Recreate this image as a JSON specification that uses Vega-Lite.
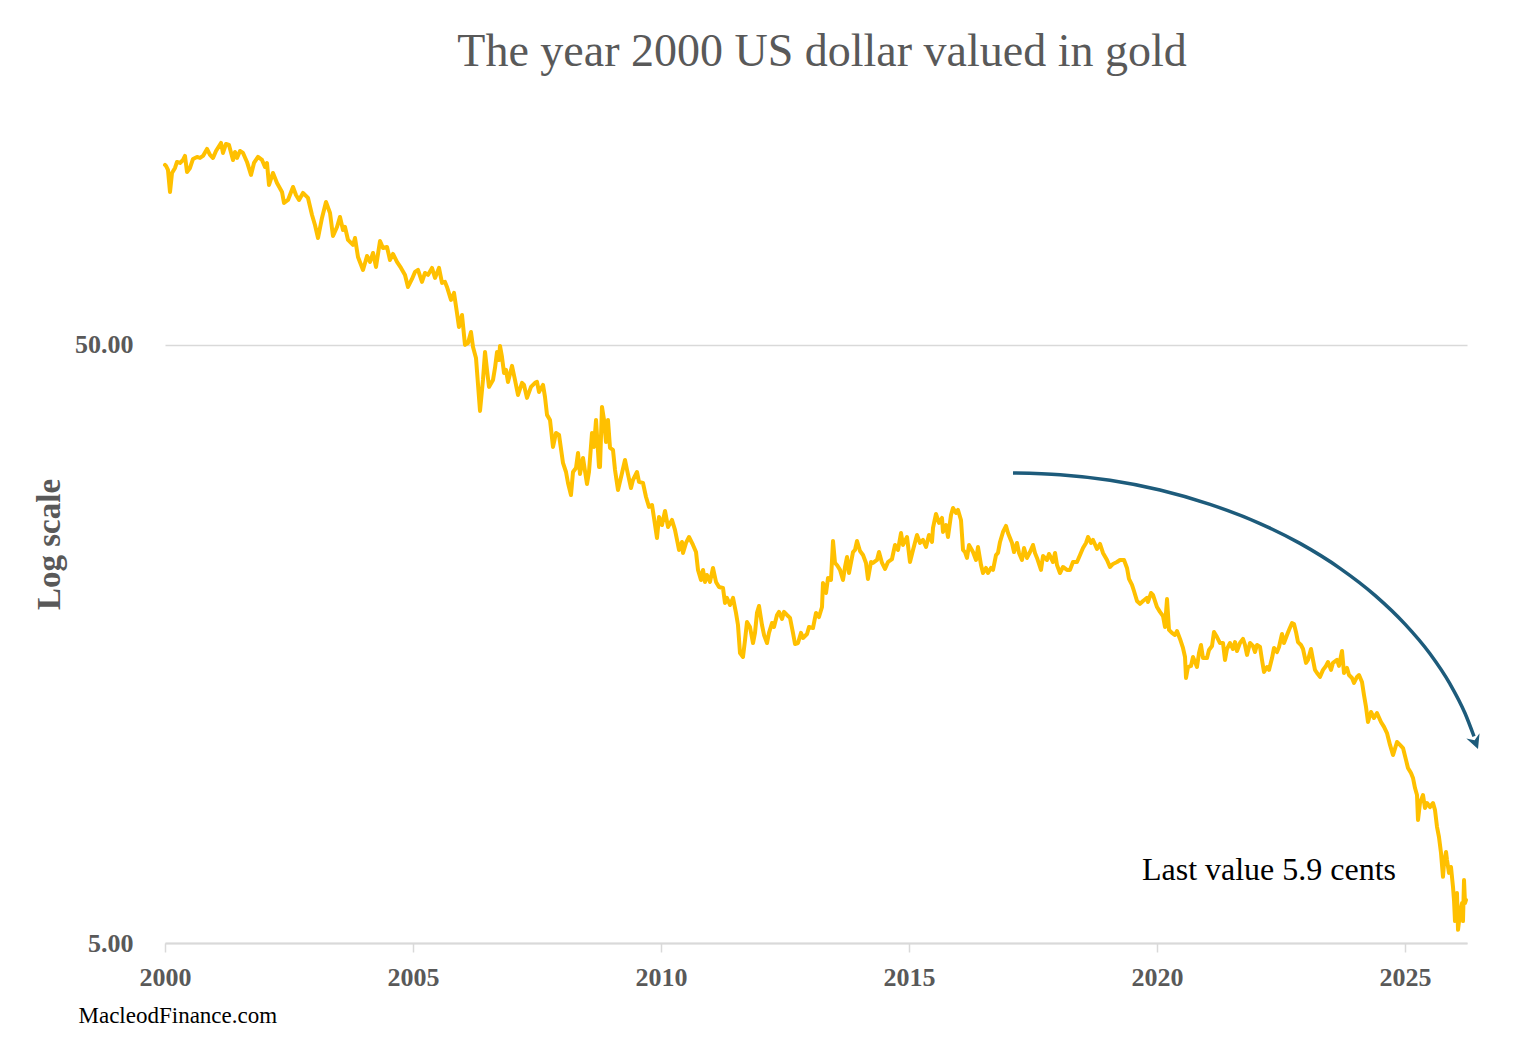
{
  "$schema": "https://vega.github.io/schema/vega-lite/v6.json",
  "autosize": {"type": "none"},
  "padding": {"left": 165, "top": 107, "right": 59, "bottom": 105},
  "width": 1302,
  "height": 836,
  "background": "white",
  "config": {
    "view": {"stroke": null},
    "font": "Liberation Serif"
  },
  "title": {
    "text": "The year 2000 US dollar valued in gold",
    "font": "Liberation Serif",
    "fontSize": 46,
    "fontWeight": "normal",
    "color": "#595959",
    "anchor": "middle",
    "frame": "group",
    "baseline": "alphabetic",
    "offset": 45,
    "dx": 6,
    "dy": 50
  },
  "datasets": {
    "gold": [
      {"year": 2000.000, "value": 100.00},
      {"year": 2000.020, "value": 99.62},
      {"year": 2000.060, "value": 98.09},
      {"year": 2000.101, "value": 90.13},
      {"year": 2000.141, "value": 96.97},
      {"year": 2000.202, "value": 98.85},
      {"year": 2000.242, "value": 101.16},
      {"year": 2000.302, "value": 100.77},
      {"year": 2000.363, "value": 101.94},
      {"year": 2000.403, "value": 103.53},
      {"year": 2000.444, "value": 97.34},
      {"year": 2000.504, "value": 98.85},
      {"year": 2000.565, "value": 102.34},
      {"year": 2000.645, "value": 103.13},
      {"year": 2000.706, "value": 102.73},
      {"year": 2000.766, "value": 103.53},
      {"year": 2000.847, "value": 106.35},
      {"year": 2000.907, "value": 103.93},
      {"year": 2000.968, "value": 102.73},
      {"year": 2001.028, "value": 105.54},
      {"year": 2001.129, "value": 108.84},
      {"year": 2001.169, "value": 104.73},
      {"year": 2001.230, "value": 108.42},
      {"year": 2001.290, "value": 108.01},
      {"year": 2001.371, "value": 101.94},
      {"year": 2001.411, "value": 105.13},
      {"year": 2001.452, "value": 102.73},
      {"year": 2001.512, "value": 105.54},
      {"year": 2001.573, "value": 104.73},
      {"year": 2001.653, "value": 101.16},
      {"year": 2001.734, "value": 96.22},
      {"year": 2001.794, "value": 100.77},
      {"year": 2001.875, "value": 103.13},
      {"year": 2001.956, "value": 101.94},
      {"year": 2002.016, "value": 99.23},
      {"year": 2002.056, "value": 100.77},
      {"year": 2002.097, "value": 92.59},
      {"year": 2002.177, "value": 96.97},
      {"year": 2002.258, "value": 93.30},
      {"year": 2002.359, "value": 90.13},
      {"year": 2002.399, "value": 86.39},
      {"year": 2002.480, "value": 87.39},
      {"year": 2002.581, "value": 91.88},
      {"year": 2002.641, "value": 89.09},
      {"year": 2002.702, "value": 87.39},
      {"year": 2002.782, "value": 89.78},
      {"year": 2002.883, "value": 88.07},
      {"year": 2002.964, "value": 82.49},
      {"year": 2003.024, "value": 79.37},
      {"year": 2003.085, "value": 75.50},
      {"year": 2003.165, "value": 81.54},
      {"year": 2003.246, "value": 86.72},
      {"year": 2003.327, "value": 83.13},
      {"year": 2003.387, "value": 76.08},
      {"year": 2003.468, "value": 78.76},
      {"year": 2003.528, "value": 81.86},
      {"year": 2003.589, "value": 77.86},
      {"year": 2003.629, "value": 78.76},
      {"year": 2003.690, "value": 74.92},
      {"year": 2003.790, "value": 73.49},
      {"year": 2003.831, "value": 75.50},
      {"year": 2003.891, "value": 70.17},
      {"year": 2003.992, "value": 66.75},
      {"year": 2004.073, "value": 70.44},
      {"year": 2004.133, "value": 68.83},
      {"year": 2004.194, "value": 71.26},
      {"year": 2004.254, "value": 67.53},
      {"year": 2004.335, "value": 74.63},
      {"year": 2004.395, "value": 72.64},
      {"year": 2004.476, "value": 72.93},
      {"year": 2004.536, "value": 69.36},
      {"year": 2004.597, "value": 70.99},
      {"year": 2004.677, "value": 68.83},
      {"year": 2004.758, "value": 67.27},
      {"year": 2004.839, "value": 65.48},
      {"year": 2004.899, "value": 62.52},
      {"year": 2004.980, "value": 64.48},
      {"year": 2005.040, "value": 66.24},
      {"year": 2005.101, "value": 66.75},
      {"year": 2005.181, "value": 63.74},
      {"year": 2005.242, "value": 65.98},
      {"year": 2005.302, "value": 65.48},
      {"year": 2005.383, "value": 67.27},
      {"year": 2005.444, "value": 64.73},
      {"year": 2005.524, "value": 67.27},
      {"year": 2005.585, "value": 63.49},
      {"year": 2005.645, "value": 63.74},
      {"year": 2005.685, "value": 62.52},
      {"year": 2005.766, "value": 59.47},
      {"year": 2005.827, "value": 61.09},
      {"year": 2005.887, "value": 56.56},
      {"year": 2005.927, "value": 53.60},
      {"year": 2005.988, "value": 56.13},
      {"year": 2006.048, "value": 50.01},
      {"year": 2006.109, "value": 50.39},
      {"year": 2006.169, "value": 52.57},
      {"year": 2006.210, "value": 49.62},
      {"year": 2006.270, "value": 47.56},
      {"year": 2006.351, "value": 38.79},
      {"year": 2006.411, "value": 43.71},
      {"year": 2006.452, "value": 48.68},
      {"year": 2006.492, "value": 45.42},
      {"year": 2006.532, "value": 42.55},
      {"year": 2006.613, "value": 43.71},
      {"year": 2006.653, "value": 45.77},
      {"year": 2006.694, "value": 48.68},
      {"year": 2006.734, "value": 47.20},
      {"year": 2006.754, "value": 49.81},
      {"year": 2006.794, "value": 47.75},
      {"year": 2006.835, "value": 44.90},
      {"year": 2006.875, "value": 45.42},
      {"year": 2006.915, "value": 43.37},
      {"year": 2006.996, "value": 46.13},
      {"year": 2007.056, "value": 43.71},
      {"year": 2007.117, "value": 41.25},
      {"year": 2007.198, "value": 43.21},
      {"year": 2007.238, "value": 42.87},
      {"year": 2007.298, "value": 40.78},
      {"year": 2007.379, "value": 42.55},
      {"year": 2007.460, "value": 43.21},
      {"year": 2007.500, "value": 43.37},
      {"year": 2007.540, "value": 41.73},
      {"year": 2007.621, "value": 42.87},
      {"year": 2007.661, "value": 40.94},
      {"year": 2007.702, "value": 38.20},
      {"year": 2007.762, "value": 37.47},
      {"year": 2007.823, "value": 33.77},
      {"year": 2007.883, "value": 35.64},
      {"year": 2007.944, "value": 35.37},
      {"year": 2008.024, "value": 31.75},
      {"year": 2008.085, "value": 30.66},
      {"year": 2008.125, "value": 29.39},
      {"year": 2008.185, "value": 28.06},
      {"year": 2008.226, "value": 30.66},
      {"year": 2008.286, "value": 31.14},
      {"year": 2008.327, "value": 33.00},
      {"year": 2008.367, "value": 30.43},
      {"year": 2008.427, "value": 32.37},
      {"year": 2008.508, "value": 29.28},
      {"year": 2008.548, "value": 30.66},
      {"year": 2008.609, "value": 35.64},
      {"year": 2008.649, "value": 33.77},
      {"year": 2008.690, "value": 37.47},
      {"year": 2008.750, "value": 31.26},
      {"year": 2008.770, "value": 31.26},
      {"year": 2008.810, "value": 39.39},
      {"year": 2008.851, "value": 37.47},
      {"year": 2008.891, "value": 34.42},
      {"year": 2008.931, "value": 37.47},
      {"year": 2008.972, "value": 33.64},
      {"year": 2009.032, "value": 33.38},
      {"year": 2009.073, "value": 30.90},
      {"year": 2009.133, "value": 28.61},
      {"year": 2009.214, "value": 30.55},
      {"year": 2009.274, "value": 32.12},
      {"year": 2009.315, "value": 30.90},
      {"year": 2009.395, "value": 28.83},
      {"year": 2009.435, "value": 29.73},
      {"year": 2009.516, "value": 30.66},
      {"year": 2009.556, "value": 29.51},
      {"year": 2009.637, "value": 29.39},
      {"year": 2009.698, "value": 27.85},
      {"year": 2009.758, "value": 26.80},
      {"year": 2009.819, "value": 27.00},
      {"year": 2009.859, "value": 25.69},
      {"year": 2009.919, "value": 23.78},
      {"year": 2009.960, "value": 25.79},
      {"year": 2010.020, "value": 25.00},
      {"year": 2010.081, "value": 26.39},
      {"year": 2010.141, "value": 24.81},
      {"year": 2010.222, "value": 25.49},
      {"year": 2010.282, "value": 24.53},
      {"year": 2010.323, "value": 23.60},
      {"year": 2010.363, "value": 22.71},
      {"year": 2010.423, "value": 23.42},
      {"year": 2010.444, "value": 22.45},
      {"year": 2010.504, "value": 23.33},
      {"year": 2010.565, "value": 23.87},
      {"year": 2010.645, "value": 23.15},
      {"year": 2010.706, "value": 22.53},
      {"year": 2010.746, "value": 21.03},
      {"year": 2010.806, "value": 20.23},
      {"year": 2010.847, "value": 21.03},
      {"year": 2010.887, "value": 20.08},
      {"year": 2010.927, "value": 20.62},
      {"year": 2010.988, "value": 20.08},
      {"year": 2011.048, "value": 21.19},
      {"year": 2011.109, "value": 20.08},
      {"year": 2011.169, "value": 19.69},
      {"year": 2011.250, "value": 19.62},
      {"year": 2011.290, "value": 18.52},
      {"year": 2011.331, "value": 18.88},
      {"year": 2011.391, "value": 18.37},
      {"year": 2011.452, "value": 18.88},
      {"year": 2011.512, "value": 17.82},
      {"year": 2011.552, "value": 17.01},
      {"year": 2011.593, "value": 15.27},
      {"year": 2011.653, "value": 15.04},
      {"year": 2011.694, "value": 16.06},
      {"year": 2011.734, "value": 17.21},
      {"year": 2011.794, "value": 16.88},
      {"year": 2011.855, "value": 15.87},
      {"year": 2011.895, "value": 16.50},
      {"year": 2011.935, "value": 17.82},
      {"year": 2011.976, "value": 18.30},
      {"year": 2012.036, "value": 17.01},
      {"year": 2012.077, "value": 16.37},
      {"year": 2012.137, "value": 15.87},
      {"year": 2012.177, "value": 16.50},
      {"year": 2012.238, "value": 17.14},
      {"year": 2012.278, "value": 16.88},
      {"year": 2012.339, "value": 17.68},
      {"year": 2012.379, "value": 17.89},
      {"year": 2012.440, "value": 17.41},
      {"year": 2012.480, "value": 17.89},
      {"year": 2012.540, "value": 17.68},
      {"year": 2012.601, "value": 17.48},
      {"year": 2012.661, "value": 16.50},
      {"year": 2012.702, "value": 15.81},
      {"year": 2012.762, "value": 15.87},
      {"year": 2012.823, "value": 16.50},
      {"year": 2012.863, "value": 16.18},
      {"year": 2012.944, "value": 16.43},
      {"year": 2012.984, "value": 16.88},
      {"year": 2013.065, "value": 16.82},
      {"year": 2013.125, "value": 17.82},
      {"year": 2013.185, "value": 17.54},
      {"year": 2013.246, "value": 18.23},
      {"year": 2013.266, "value": 20.00},
      {"year": 2013.327, "value": 19.24},
      {"year": 2013.367, "value": 20.39},
      {"year": 2013.427, "value": 20.23},
      {"year": 2013.468, "value": 23.51},
      {"year": 2013.508, "value": 21.60},
      {"year": 2013.548, "value": 21.43},
      {"year": 2013.609, "value": 21.03},
      {"year": 2013.669, "value": 20.23},
      {"year": 2013.710, "value": 21.27},
      {"year": 2013.750, "value": 22.10},
      {"year": 2013.790, "value": 20.78},
      {"year": 2013.871, "value": 22.53},
      {"year": 2013.911, "value": 22.71},
      {"year": 2013.952, "value": 23.51},
      {"year": 2014.012, "value": 22.62},
      {"year": 2014.073, "value": 22.27},
      {"year": 2014.133, "value": 21.60},
      {"year": 2014.173, "value": 20.31},
      {"year": 2014.234, "value": 21.68},
      {"year": 2014.274, "value": 21.60},
      {"year": 2014.355, "value": 21.85},
      {"year": 2014.395, "value": 22.53},
      {"year": 2014.456, "value": 21.60},
      {"year": 2014.516, "value": 21.11},
      {"year": 2014.577, "value": 21.68},
      {"year": 2014.657, "value": 21.93},
      {"year": 2014.718, "value": 23.15},
      {"year": 2014.778, "value": 22.71},
      {"year": 2014.839, "value": 24.24},
      {"year": 2014.879, "value": 23.15},
      {"year": 2014.960, "value": 23.87},
      {"year": 2015.020, "value": 21.68},
      {"year": 2015.081, "value": 22.71},
      {"year": 2015.161, "value": 24.06},
      {"year": 2015.222, "value": 23.33},
      {"year": 2015.282, "value": 23.60},
      {"year": 2015.343, "value": 22.97},
      {"year": 2015.403, "value": 24.06},
      {"year": 2015.464, "value": 23.42},
      {"year": 2015.484, "value": 24.72},
      {"year": 2015.544, "value": 26.08},
      {"year": 2015.605, "value": 25.20},
      {"year": 2015.665, "value": 25.69},
      {"year": 2015.685, "value": 24.34},
      {"year": 2015.746, "value": 25.00},
      {"year": 2015.786, "value": 23.87},
      {"year": 2015.847, "value": 25.98},
      {"year": 2015.887, "value": 26.69},
      {"year": 2015.948, "value": 26.19},
      {"year": 2015.988, "value": 26.49},
      {"year": 2016.048, "value": 25.49},
      {"year": 2016.089, "value": 22.71},
      {"year": 2016.129, "value": 22.53},
      {"year": 2016.169, "value": 22.02},
      {"year": 2016.210, "value": 23.15},
      {"year": 2016.290, "value": 22.53},
      {"year": 2016.351, "value": 21.85},
      {"year": 2016.391, "value": 22.97},
      {"year": 2016.452, "value": 21.43},
      {"year": 2016.492, "value": 20.78},
      {"year": 2016.552, "value": 21.19},
      {"year": 2016.593, "value": 20.78},
      {"year": 2016.653, "value": 21.19},
      {"year": 2016.694, "value": 21.03},
      {"year": 2016.754, "value": 22.27},
      {"year": 2016.794, "value": 22.45},
      {"year": 2016.835, "value": 23.42},
      {"year": 2016.895, "value": 24.34},
      {"year": 2016.956, "value": 24.91},
      {"year": 2016.996, "value": 24.24},
      {"year": 2017.077, "value": 23.33},
      {"year": 2017.117, "value": 22.53},
      {"year": 2017.177, "value": 23.33},
      {"year": 2017.218, "value": 22.45},
      {"year": 2017.278, "value": 21.85},
      {"year": 2017.319, "value": 22.88},
      {"year": 2017.379, "value": 22.02},
      {"year": 2017.440, "value": 22.53},
      {"year": 2017.500, "value": 23.15},
      {"year": 2017.540, "value": 22.45},
      {"year": 2017.581, "value": 22.02},
      {"year": 2017.661, "value": 21.03},
      {"year": 2017.702, "value": 22.19},
      {"year": 2017.782, "value": 21.85},
      {"year": 2017.823, "value": 22.36},
      {"year": 2017.903, "value": 21.68},
      {"year": 2017.944, "value": 22.45},
      {"year": 2017.984, "value": 21.43},
      {"year": 2018.044, "value": 20.78},
      {"year": 2018.105, "value": 21.27},
      {"year": 2018.185, "value": 21.03},
      {"year": 2018.246, "value": 21.03},
      {"year": 2018.306, "value": 21.68},
      {"year": 2018.387, "value": 21.68},
      {"year": 2018.448, "value": 22.27},
      {"year": 2018.508, "value": 22.88},
      {"year": 2018.569, "value": 23.33},
      {"year": 2018.609, "value": 23.87},
      {"year": 2018.669, "value": 23.33},
      {"year": 2018.710, "value": 23.60},
      {"year": 2018.790, "value": 22.80},
      {"year": 2018.851, "value": 23.24},
      {"year": 2018.911, "value": 22.45},
      {"year": 2018.992, "value": 21.85},
      {"year": 2019.052, "value": 21.27},
      {"year": 2019.113, "value": 21.52},
      {"year": 2019.194, "value": 21.68},
      {"year": 2019.254, "value": 21.85},
      {"year": 2019.335, "value": 21.85},
      {"year": 2019.395, "value": 21.19},
      {"year": 2019.435, "value": 20.31},
      {"year": 2019.496, "value": 19.85},
      {"year": 2019.536, "value": 19.39},
      {"year": 2019.597, "value": 18.66},
      {"year": 2019.657, "value": 18.45},
      {"year": 2019.718, "value": 18.66},
      {"year": 2019.798, "value": 18.88},
      {"year": 2019.819, "value": 18.59},
      {"year": 2019.879, "value": 19.24},
      {"year": 2019.919, "value": 19.10},
      {"year": 2020.000, "value": 18.23},
      {"year": 2020.060, "value": 17.89},
      {"year": 2020.121, "value": 17.61},
      {"year": 2020.161, "value": 16.88},
      {"year": 2020.202, "value": 18.80},
      {"year": 2020.242, "value": 16.69},
      {"year": 2020.302, "value": 16.50},
      {"year": 2020.363, "value": 16.37},
      {"year": 2020.403, "value": 16.62},
      {"year": 2020.464, "value": 16.12},
      {"year": 2020.524, "value": 15.57},
      {"year": 2020.565, "value": 15.04},
      {"year": 2020.585, "value": 13.87},
      {"year": 2020.625, "value": 14.47},
      {"year": 2020.685, "value": 14.53},
      {"year": 2020.726, "value": 15.04},
      {"year": 2020.766, "value": 14.75},
      {"year": 2020.806, "value": 14.47},
      {"year": 2020.847, "value": 15.27},
      {"year": 2020.887, "value": 15.75},
      {"year": 2020.927, "value": 14.98},
      {"year": 2021.008, "value": 14.98},
      {"year": 2021.048, "value": 15.45},
      {"year": 2021.109, "value": 15.69},
      {"year": 2021.149, "value": 16.56},
      {"year": 2021.210, "value": 16.24},
      {"year": 2021.270, "value": 15.87},
      {"year": 2021.331, "value": 15.87},
      {"year": 2021.371, "value": 14.87},
      {"year": 2021.411, "value": 15.51},
      {"year": 2021.472, "value": 15.87},
      {"year": 2021.532, "value": 15.51},
      {"year": 2021.573, "value": 15.93},
      {"year": 2021.613, "value": 15.39},
      {"year": 2021.673, "value": 15.87},
      {"year": 2021.734, "value": 16.12},
      {"year": 2021.774, "value": 15.75},
      {"year": 2021.815, "value": 15.16},
      {"year": 2021.875, "value": 15.87},
      {"year": 2021.935, "value": 15.69},
      {"year": 2021.976, "value": 15.33},
      {"year": 2022.016, "value": 15.75},
      {"year": 2022.077, "value": 15.63},
      {"year": 2022.117, "value": 14.87},
      {"year": 2022.157, "value": 14.20},
      {"year": 2022.218, "value": 14.47},
      {"year": 2022.258, "value": 14.31},
      {"year": 2022.319, "value": 14.98},
      {"year": 2022.359, "value": 15.57},
      {"year": 2022.419, "value": 15.33},
      {"year": 2022.460, "value": 15.63},
      {"year": 2022.520, "value": 16.43},
      {"year": 2022.560, "value": 15.87},
      {"year": 2022.621, "value": 16.37},
      {"year": 2022.661, "value": 16.69},
      {"year": 2022.722, "value": 17.14},
      {"year": 2022.762, "value": 17.08},
      {"year": 2022.802, "value": 16.56},
      {"year": 2022.843, "value": 15.93},
      {"year": 2022.903, "value": 15.75},
      {"year": 2022.944, "value": 15.51},
      {"year": 2023.004, "value": 14.70},
      {"year": 2023.044, "value": 14.87},
      {"year": 2023.105, "value": 15.51},
      {"year": 2023.145, "value": 14.87},
      {"year": 2023.185, "value": 14.31},
      {"year": 2023.226, "value": 14.14},
      {"year": 2023.286, "value": 13.93},
      {"year": 2023.347, "value": 14.31},
      {"year": 2023.407, "value": 14.53},
      {"year": 2023.448, "value": 14.75},
      {"year": 2023.508, "value": 14.31},
      {"year": 2023.548, "value": 14.70},
      {"year": 2023.629, "value": 14.87},
      {"year": 2023.669, "value": 14.53},
      {"year": 2023.730, "value": 15.39},
      {"year": 2023.770, "value": 14.14},
      {"year": 2023.831, "value": 14.42},
      {"year": 2023.871, "value": 14.03},
      {"year": 2023.931, "value": 13.87},
      {"year": 2023.972, "value": 13.61},
      {"year": 2024.032, "value": 13.93},
      {"year": 2024.073, "value": 14.03},
      {"year": 2024.133, "value": 13.66},
      {"year": 2024.173, "value": 12.99},
      {"year": 2024.214, "value": 12.41},
      {"year": 2024.254, "value": 11.71},
      {"year": 2024.315, "value": 12.17},
      {"year": 2024.375, "value": 11.89},
      {"year": 2024.435, "value": 12.12},
      {"year": 2024.516, "value": 11.71},
      {"year": 2024.577, "value": 11.49},
      {"year": 2024.637, "value": 11.22},
      {"year": 2024.698, "value": 10.72},
      {"year": 2024.758, "value": 10.31},
      {"year": 2024.839, "value": 10.84},
      {"year": 2024.899, "value": 10.72},
      {"year": 2024.960, "value": 10.59},
      {"year": 2025.020, "value": 10.12},
      {"year": 2025.060, "value": 9.81},
      {"year": 2025.121, "value": 9.62},
      {"year": 2025.161, "value": 9.44},
      {"year": 2025.202, "value": 9.08},
      {"year": 2025.242, "value": 8.84},
      {"year": 2025.262, "value": 8.03},
      {"year": 2025.302, "value": 8.57},
      {"year": 2025.363, "value": 8.84},
      {"year": 2025.403, "value": 8.41},
      {"year": 2025.444, "value": 8.57},
      {"year": 2025.504, "value": 8.44},
      {"year": 2025.565, "value": 8.57},
      {"year": 2025.605, "value": 8.34},
      {"year": 2025.645, "value": 7.82},
      {"year": 2025.685, "value": 7.52},
      {"year": 2025.726, "value": 7.07},
      {"year": 2025.766, "value": 6.45},
      {"year": 2025.786, "value": 6.80},
      {"year": 2025.827, "value": 7.10},
      {"year": 2025.847, "value": 6.88},
      {"year": 2025.887, "value": 6.55},
      {"year": 2025.927, "value": 6.70},
      {"year": 2025.968, "value": 6.20},
      {"year": 2025.988, "value": 5.90},
      {"year": 2026.008, "value": 5.44},
      {"year": 2026.028, "value": 5.74},
      {"year": 2026.048, "value": 6.06},
      {"year": 2026.069, "value": 5.26},
      {"year": 2026.109, "value": 5.61},
      {"year": 2026.149, "value": 5.83},
      {"year": 2026.169, "value": 5.44},
      {"year": 2026.190, "value": 6.37},
      {"year": 2026.210, "value": 5.83},
      {"year": 2026.230, "value": 5.90}
    ],
    "arrow": [
      {"year": 2017.097, "value": 30.54},
      {"year": 2018.044, "value": 30.34},
      {"year": 2019.052, "value": 29.70},
      {"year": 2020.060, "value": 28.61},
      {"year": 2021.069, "value": 27.07},
      {"year": 2022.077, "value": 25.14},
      {"year": 2022.883, "value": 23.29},
      {"year": 2023.690, "value": 21.16},
      {"year": 2024.395, "value": 19.07},
      {"year": 2025.000, "value": 17.07},
      {"year": 2025.504, "value": 15.23},
      {"year": 2025.907, "value": 13.56},
      {"year": 2026.210, "value": 12.11},
      {"year": 2026.391, "value": 11.08}
    ],
    "arrowhead": [
      {"year": 2026.421, "value": 10.82}
    ],
    "note": [
      {"year": 2022.258, "value": 6.62, "label": "Last value 5.9 cents"}
    ]
  },
  "encoding": {
    "x": {
      "field": "year",
      "type": "quantitative",
      "scale": {"domain": [2000, 2026.25], "nice": false, "zero": false},
      "axis": {
        "values": [2000, 2005, 2010, 2015, 2020, 2025],
        "format": "d",
        "grid": false,
        "labelFlush": false,
        "labelOverlap": false,
        "domainColor": "#d9d9d9",
        "domainWidth": 2,
        "tickColor": "#d9d9d9",
        "tickWidth": 1.5,
        "tickSize": 9,
        "labelFont": "Liberation Serif",
        "labelFontSize": 26,
        "labelFontWeight": "bold",
        "labelColor": "#595959",
        "labelPadding": 12,
        "title": "MacleodFinance.com",
        "titleFont": "Liberation Serif",
        "titleFontSize": 23,
        "titleFontWeight": "normal",
        "titleColor": "#000000",
        "titleAnchor": "start",
        "titleAlign": "left",
        "titleBaseline": "alphabetic",
        "titleX": -87,
        "titleY": 79
      }
    },
    "y": {
      "field": "value",
      "type": "quantitative",
      "scale": {"type": "log", "domain": [5, 125], "nice": false, "zero": false},
      "axis": {
        "values": [5, 50],
        "format": ".2f",
        "grid": true,
        "gridColor": "#d9d9d9",
        "gridWidth": 1.5,
        "labelFlush": false,
        "labelOverlap": false,
        "domain": false,
        "ticks": false,
        "tickSize": 0,
        "labelFont": "Liberation Serif",
        "labelFontSize": 26,
        "labelFontWeight": "bold",
        "labelColor": "#595959",
        "labelPadding": 32,
        "title": "Log scale",
        "titleFont": "Liberation Serif",
        "titleFontSize": 33,
        "titleFontWeight": "bold",
        "titleColor": "#595959",
        "titleAngle": 270,
        "titleAlign": "center",
        "titleBaseline": "middle",
        "titleX": -116,
        "titleY": 437
      }
    }
  },
  "layer": [
    {
      "data": {"name": "gold"},
      "mark": {"type": "line", "color": "#FFC000", "strokeWidth": 4, "strokeJoin": "round", "strokeCap": "round"}
    },
    {
      "data": {"name": "arrow"},
      "mark": {"type": "line", "color": "#1d5b7b", "strokeWidth": 3.5, "strokeCap": "butt", "strokeJoin": "round", "interpolate": "monotone"}
    },
    {
      "data": {"name": "arrowhead"},
      "mark": {
        "type": "point",
        "shape": "M-1,-1L0,1L1,-1L0,-0.35Z",
        "filled": true,
        "color": "#1d5b7b",
        "opacity": 1,
        "size": 200,
        "angle": 339
      }
    },
    {
      "data": {"name": "note"},
      "mark": {
        "type": "text",
        "font": "Liberation Serif",
        "fontSize": 32,
        "color": "#000000",
        "align": "center",
        "baseline": "middle"
      },
      "encoding": {"text": {"field": "label", "type": "nominal"}}
    }
  ]
}
